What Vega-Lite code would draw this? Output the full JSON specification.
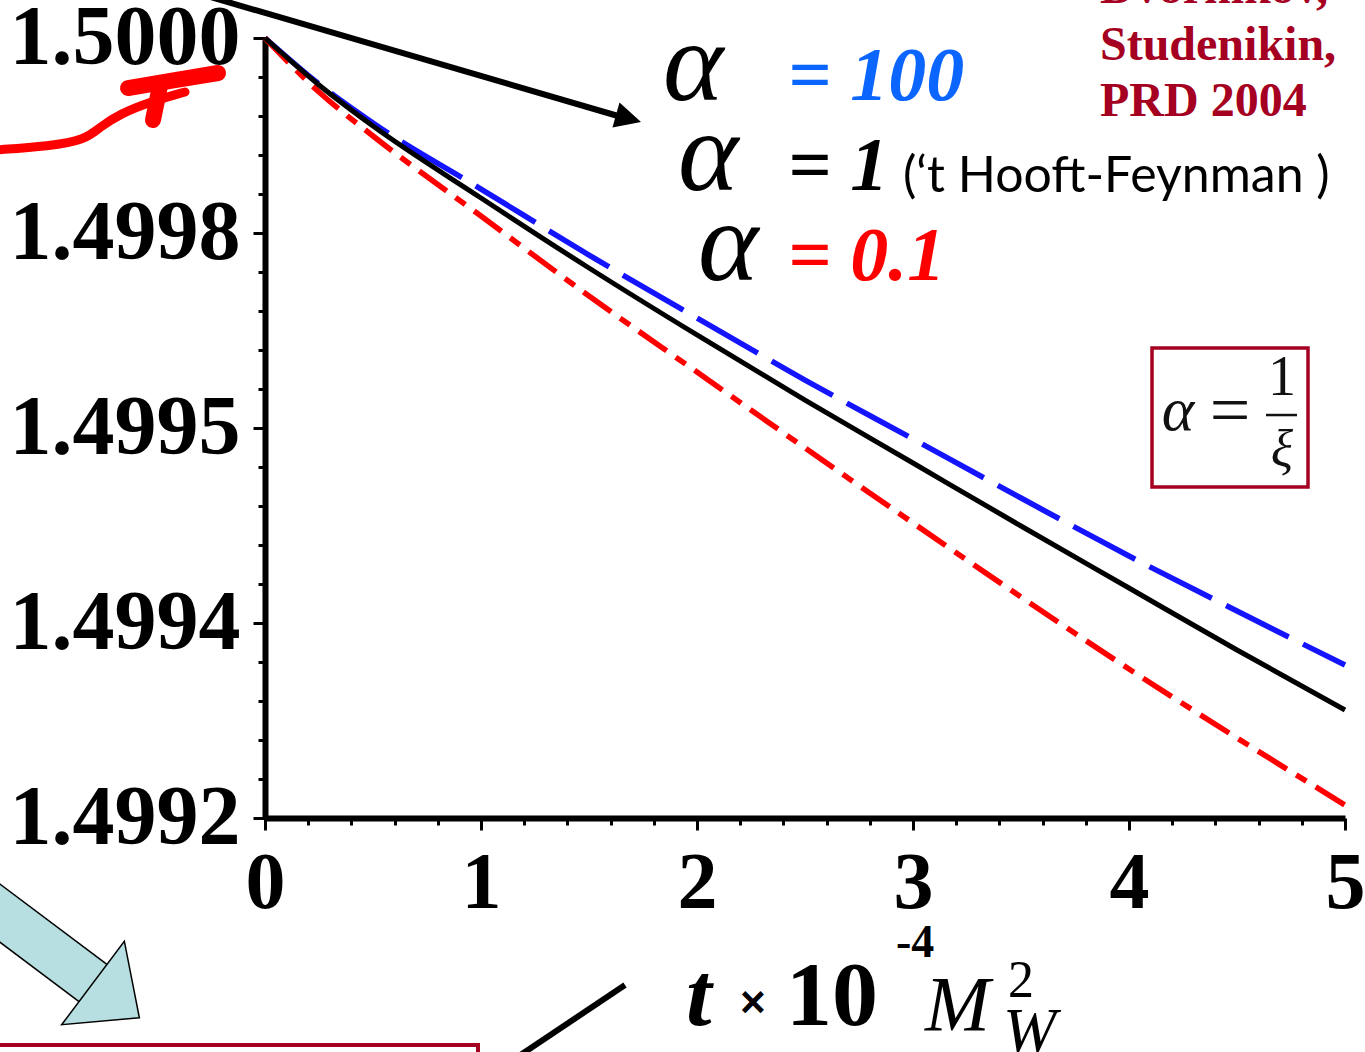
{
  "$schema": "https://vega.github.io/schema/vega-lite/v6.json",
  "width": 1080,
  "height": 780,
  "autosize": {"type": "none"},
  "padding": {"left": 265, "top": 38, "right": 20, "bottom": 234},
  "background": "white",
  "config": {"view": {"stroke": null}},
  "datasets": {
    "curves": [
      {"series": "a100", "t": 0, "v": 1.5},
      {"series": "a100", "t": 0.25, "v": 1.4999528},
      {"series": "a100", "t": 0.5, "v": 1.4999128},
      {"series": "a100", "t": 1, "v": 1.4998451},
      {"series": "a100", "t": 1.5, "v": 1.4997774},
      {"series": "a100", "t": 2, "v": 1.4997128},
      {"series": "a100", "t": 2.5, "v": 1.4996492},
      {"series": "a100", "t": 3, "v": 1.4995887},
      {"series": "a100", "t": 3.5, "v": 1.4995282},
      {"series": "a100", "t": 4, "v": 1.4994687},
      {"series": "a100", "t": 4.5, "v": 1.4994123},
      {"series": "a100", "t": 5, "v": 1.4993569},
      {"series": "a01", "t": 0, "v": 1.5},
      {"series": "a01", "t": 0.25, "v": 1.4999446},
      {"series": "a01", "t": 0.5, "v": 1.4998995},
      {"series": "a01", "t": 1, "v": 1.4998174},
      {"series": "a01", "t": 1.5, "v": 1.4997354},
      {"series": "a01", "t": 2, "v": 1.4996574},
      {"series": "a01", "t": 2.5, "v": 1.4995795},
      {"series": "a01", "t": 3, "v": 1.4995026},
      {"series": "a01", "t": 3.5, "v": 1.4994267},
      {"series": "a01", "t": 4, "v": 1.4993528},
      {"series": "a01", "t": 4.5, "v": 1.4992821},
      {"series": "a01", "t": 5, "v": 1.4992133},
      {"series": "a1", "t": 0, "v": 1.5},
      {"series": "a1", "t": 0.25, "v": 1.4999518},
      {"series": "a1", "t": 0.5, "v": 1.4999097},
      {"series": "a1", "t": 1, "v": 1.4998359},
      {"series": "a1", "t": 1.5, "v": 1.4997641},
      {"series": "a1", "t": 2, "v": 1.4996954},
      {"series": "a1", "t": 2.5, "v": 1.4996287},
      {"series": "a1", "t": 3, "v": 1.4995641},
      {"series": "a1", "t": 3.5, "v": 1.4994995},
      {"series": "a1", "t": 4, "v": 1.4994359},
      {"series": "a1", "t": 4.5, "v": 1.4993723},
      {"series": "a1", "t": 5, "v": 1.4993108}
    ],
    "alphas": [
      {"t": 1.8426, "v": 1.4999364, "label": "α"},
      {"t": 1.912, "v": 1.4998441, "label": "α"},
      {"t": 2.0046, "v": 1.4997518, "label": "α"}
    ],
    "eqBlue": [{"t": 2.4213, "v": 1.4999364, "label": "= 100"}],
    "eqBlack": [{"t": 2.4213, "v": 1.4998441, "label": "= 1"}],
    "eqRed": [{"t": 2.4213, "v": 1.4997518, "label": "= 0.1"}],
    "gauge": [{"t": 2.9537, "v": 1.4998421, "label": "(‘t Hooft-Feynman )"}],
    "refs": [
      {"t": 3.8657, "v": 1.5000359, "label": "Dvornikov,"},
      {"t": 3.8657, "v": 1.4999774, "label": "Studenikin,"},
      {"t": 3.8657, "v": 1.49992, "label": "PRD 2004"}
    ],
    "legendBox": [{"t": 4.1065, "t2": 4.8287, "v": 1.4996821, "v2": 1.4995395}],
    "bottomBox": [{"t": -1.2731, "t2": 0.9861, "v": 1.4989672, "v2": 1.4989108}],
    "fracBar": [{"t": 4.6343, "t2": 4.7778, "v": 1.4996133}],
    "boxAlpha": [{"t": 4.2269, "v": 1.4995979, "label": "α"}],
    "boxXi": [{"t": 4.7083, "v": 1.499561, "label": "ξ"}],
    "boxEq": [{"t": 4.4676, "v": 1.4995938, "label": "="}],
    "boxOne": [{"t": 4.7083, "v": 1.4996338, "label": "1"}],
    "titleT": [{"t": 1.9491, "v": 1.4989877, "label": "t"}],
    "titleTimes": [{"t": 2.1991, "v": 1.4989959, "label": "×"}],
    "titleTen": [{"t": 2.412, "v": 1.4989877, "label": "10"}],
    "titleExp": [{"t": 2.9213, "v": 1.4990574, "label": "-4"}],
    "titleM": [{"t": 3.0556, "v": 1.4989826, "label": "M"}],
    "titleW": [{"t": 3.4167, "v": 1.49896, "label": "W"}],
    "titleSq": [{"t": 3.4398, "v": 1.4990164, "label": "2"}],
    "blackLines": [
      {"seg": "a", "t": -0.3472, "v": 1.5000482},
      {"seg": "a", "t": 1.6343, "v": 1.49992},
      {"seg": "b", "t": 1.6667, "v": 1.4990287},
      {"seg": "b", "t": 1.1481, "v": 1.4989518}
    ],
    "blackHead": [{"t": 1.625, "v": 1.499921}],
    "redCurve": [
      {"t": -1.25, "v": 1.4998851},
      {"t": -0.9954, "v": 1.4998892},
      {"t": -0.8333, "v": 1.4998954},
      {"t": -0.7639, "v": 1.4999087},
      {"t": -0.6713, "v": 1.4999221},
      {"t": -0.5324, "v": 1.4999344},
      {"t": -0.3704, "v": 1.4999446}
    ],
    "redBlob": [
      {"seg": "a", "t": -0.6343, "v": 1.4999487},
      {"seg": "a", "t": -0.4167, "v": 1.4999569},
      {"seg": "a", "t": -0.2176, "v": 1.4999641},
      {"seg": "b", "t": -0.4861, "v": 1.4999508},
      {"seg": "b", "t": -0.5185, "v": 1.4999159}
    ],
    "cyanShaft": [
      {"t": -1.4259, "v": 1.4991354},
      {"t": -0.7778, "v": 1.4990277}
    ],
    "cyanHead": [{"t": -0.7963, "v": 1.4990308}]
  },
  "encoding": {
    "x": {
      "field": "t",
      "type": "quantitative",
      "scale": {"domain": [0, 5], "nice": false, "zero": false},
      "axis": {
        "values": [0, 0.2, 0.4, 0.6, 0.8, 1, 1.2, 1.4, 1.6, 1.8, 2, 2.2, 2.4, 2.6, 2.8, 3, 3.2, 3.4, 3.6, 3.8, 4, 4.2, 4.4, 4.6, 4.8, 5],
        "title": null,
        "grid": false,
        "domainColor": "black",
        "domainWidth": 6,
        "tickColor": "black",
        "tickWidth": 3,
        "tickSize": {"condition": {"test": "abs(datum.value - round(datum.value)) < 0.001", "value": 12}, "value": 7},
        "labelExpr": "abs(datum.value - round(datum.value)) < 0.001 ? format(datum.value, 'd') : ''",
        "labelFont": "Liberation Serif",
        "labelFontWeight": "bold",
        "labelFontSize": 80,
        "labelColor": "black",
        "labelPadding": 14,
        "labelFlush": false,
        "labelOverlap": false,
        "labelBound": false,
        "labelLimit": 0
      }
    },
    "y": {
      "field": "v",
      "type": "quantitative",
      "scale": {"domain": [1.4992, 1.5], "nice": false, "zero": false},
      "axis": {
        "values": [1.4992, 1.49924, 1.49928, 1.49932, 1.49936, 1.4994, 1.49944, 1.49948, 1.49952, 1.49956, 1.4996, 1.49964, 1.49968, 1.49972, 1.49976, 1.4998, 1.49984, 1.49988, 1.49992, 1.49996, 1.5],
        "title": null,
        "grid": false,
        "domainColor": "black",
        "domainWidth": 6,
        "tickColor": "black",
        "tickWidth": 3,
        "tickSize": {"condition": {"test": "abs(datum.value*5000 - round(datum.value*5000)) < 0.01", "value": 12}, "value": 7},
        "labelExpr": "abs(datum.value*5000 - round(datum.value*5000)) < 0.01 ? (abs(datum.value - 1.4996) < 0.00001 ? '1.4995' : format(datum.value, '.4f')) : ''",
        "labelFont": "Liberation Serif",
        "labelFontWeight": "bold",
        "labelFontSize": 84,
        "labelColor": "black",
        "labelPadding": 13,
        "labelFlush": false,
        "labelOverlap": false,
        "labelBound": false,
        "labelLimit": 0
      }
    }
  },
  "layer": [
    {
      "data": {"name": "cyanShaft"},
      "mark": {"type": "line", "color": "black", "strokeWidth": 48, "strokeCap": "butt"},
      "encoding": {}
    },
    {
      "data": {"name": "cyanShaft"},
      "mark": {"type": "line", "color": "#b7dee0", "strokeWidth": 45, "strokeCap": "butt"},
      "encoding": {}
    },
    {
      "data": {"name": "cyanHead"},
      "mark": {"type": "point", "shape": "M0,-1L0.9,0L-0.9,0Z", "size": 13456, "angle": 126.9, "filled": true, "fill": "#b7dee0", "stroke": "black", "strokeWidth": 1.5, "opacity": 1}
    },
    {
      "data": {"name": "bottomBox"},
      "mark": {"type": "rect", "filled": false, "stroke": "#a50021", "strokeWidth": 4},
      "encoding": {"x2": {"field": "t2"}, "y2": {"field": "v2"}}
    },
    {
      "data": {"name": "blackLines"},
      "mark": {"type": "line", "color": "black", "strokeWidth": 6, "strokeCap": "butt"},
      "encoding": {"detail": {"field": "seg"}}
    },
    {
      "data": {"name": "blackHead"},
      "mark": {"type": "point", "shape": "M0,-1L0.5,0L-0.5,0Z", "size": 2704, "angle": 105.7, "filled": true, "color": "black", "opacity": 1}
    },
    {
      "data": {"name": "redCurve"},
      "mark": {"type": "line", "color": "#ff0000", "strokeWidth": 9, "strokeCap": "round", "interpolate": "basis"},
      "encoding": {}
    },
    {
      "data": {"name": "redBlob"},
      "mark": {"type": "line", "color": "#ff0000", "strokeWidth": 16, "strokeCap": "round"},
      "encoding": {"detail": {"field": "seg"}}
    },
    {
      "data": {"name": "curves"},
      "transform": [{"filter": "datum.series === 'a100'"}],
      "mark": {"type": "line", "color": "#1414ff", "strokeWidth": 5.5, "strokeDash": [70, 16], "strokeCap": "butt", "interpolate": "monotone"},
      "encoding": {}
    },
    {
      "data": {"name": "curves"},
      "transform": [{"filter": "datum.series === 'a01'"}],
      "mark": {"type": "line", "color": "#ff0000", "strokeWidth": 5.5, "strokeDash": [34, 11, 12, 11], "strokeCap": "butt", "interpolate": "monotone"},
      "encoding": {}
    },
    {
      "data": {"name": "curves"},
      "transform": [{"filter": "datum.series === 'a1'"}],
      "mark": {"type": "line", "color": "black", "strokeWidth": 5, "interpolate": "monotone"},
      "encoding": {}
    },
    {
      "data": {"name": "legendBox"},
      "mark": {"type": "rect", "fill": "white", "stroke": "#a50021", "strokeWidth": 3.5},
      "encoding": {"x2": {"field": "t2"}, "y2": {"field": "v2"}}
    },
    {
      "data": {"name": "fracBar"},
      "mark": {"type": "rule", "color": "#111111", "strokeWidth": 2.5},
      "encoding": {"x2": {"field": "t2"}}
    },
    {
      "data": {"name": "boxAlpha"},
      "mark": {"type": "text", "font": "Liberation Serif", "fontStyle": "italic", "fontSize": 62, "color": "#111111", "align": "center", "baseline": "alphabetic"},
      "encoding": {"text": {"field": "label"}}
    },
    {
      "data": {"name": "boxXi"},
      "mark": {"type": "text", "font": "Liberation Serif", "fontStyle": "italic", "fontSize": 52, "color": "#111111", "align": "center", "baseline": "alphabetic"},
      "encoding": {"text": {"field": "label"}}
    },
    {
      "data": {"name": "boxEq"},
      "mark": {"type": "text", "font": "Liberation Serif", "fontSize": 72, "color": "#111111", "align": "center", "baseline": "alphabetic"},
      "encoding": {"text": {"field": "label"}}
    },
    {
      "data": {"name": "boxOne"},
      "mark": {"type": "text", "font": "Liberation Serif", "fontSize": 56, "color": "#111111", "align": "center", "baseline": "alphabetic"},
      "encoding": {"text": {"field": "label"}}
    },
    {
      "data": {"name": "alphas"},
      "mark": {"type": "text", "font": "Liberation Serif", "fontStyle": "italic", "fontSize": 115, "color": "black", "align": "left", "baseline": "alphabetic"},
      "encoding": {"text": {"field": "label"}}
    },
    {
      "data": {"name": "eqBlue"},
      "mark": {"type": "text", "font": "Liberation Serif", "fontStyle": "italic", "fontWeight": "bold", "fontSize": 76, "color": "#0a66ff", "align": "left", "baseline": "alphabetic"},
      "encoding": {"text": {"field": "label"}}
    },
    {
      "data": {"name": "eqBlack"},
      "mark": {"type": "text", "font": "Liberation Serif", "fontStyle": "italic", "fontWeight": "bold", "fontSize": 76, "color": "black", "align": "left", "baseline": "alphabetic"},
      "encoding": {"text": {"field": "label"}}
    },
    {
      "data": {"name": "eqRed"},
      "mark": {"type": "text", "font": "Liberation Serif", "fontStyle": "italic", "fontWeight": "bold", "fontSize": 76, "color": "#ff0000", "align": "left", "baseline": "alphabetic"},
      "encoding": {"text": {"field": "label"}}
    },
    {
      "data": {"name": "gauge"},
      "mark": {"type": "text", "font": "Lato", "fontSize": 50, "color": "black", "align": "left", "baseline": "alphabetic"},
      "encoding": {"text": {"field": "label"}}
    },
    {
      "data": {"name": "refs"},
      "mark": {"type": "text", "font": "Liberation Serif", "fontWeight": "bold", "fontSize": 48, "color": "#a50021", "align": "left", "baseline": "alphabetic"},
      "encoding": {"text": {"field": "label"}}
    },
    {
      "data": {"name": "titleT"},
      "mark": {"type": "text", "font": "Liberation Serif", "fontStyle": "italic", "fontWeight": "bold", "fontSize": 92, "color": "black", "align": "left", "baseline": "alphabetic"},
      "encoding": {"text": {"field": "label"}}
    },
    {
      "data": {"name": "titleTimes"},
      "mark": {"type": "text", "font": "Liberation Sans", "fontWeight": "bold", "fontSize": 44, "color": "black", "align": "left", "baseline": "alphabetic"},
      "encoding": {"text": {"field": "label"}}
    },
    {
      "data": {"name": "titleTen"},
      "mark": {"type": "text", "font": "Liberation Serif", "fontWeight": "bold", "fontSize": 92, "color": "black", "align": "left", "baseline": "alphabetic"},
      "encoding": {"text": {"field": "label"}}
    },
    {
      "data": {"name": "titleExp"},
      "mark": {"type": "text", "font": "Liberation Serif", "fontWeight": "bold", "fontSize": 46, "color": "black", "align": "left", "baseline": "alphabetic"},
      "encoding": {"text": {"field": "label"}}
    },
    {
      "data": {"name": "titleM"},
      "mark": {"type": "text", "font": "Liberation Serif", "fontStyle": "italic", "fontSize": 78, "color": "black", "align": "left", "baseline": "alphabetic"},
      "encoding": {"text": {"field": "label"}}
    },
    {
      "data": {"name": "titleW"},
      "mark": {"type": "text", "font": "Liberation Serif", "fontStyle": "italic", "fontSize": 64, "color": "black", "align": "left", "baseline": "alphabetic"},
      "encoding": {"text": {"field": "label"}}
    },
    {
      "data": {"name": "titleSq"},
      "mark": {"type": "text", "font": "Liberation Serif", "fontSize": 52, "color": "black", "align": "left", "baseline": "alphabetic"},
      "encoding": {"text": {"field": "label"}}
    }
  ]
}
